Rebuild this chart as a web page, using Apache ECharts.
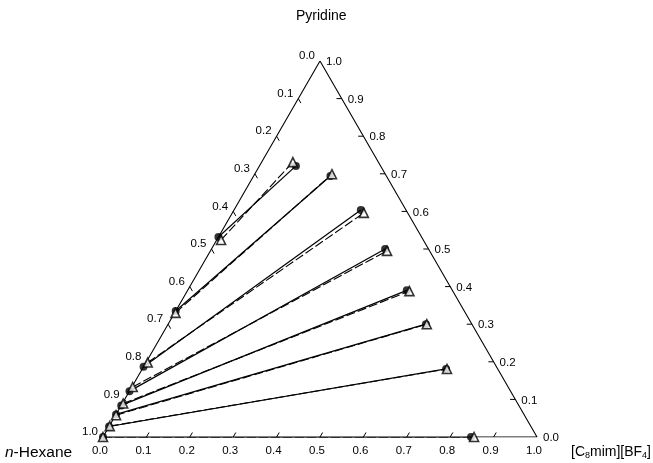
<!DOCTYPE html>
<html>
<head>
<meta charset="utf-8">
<script src="https://cdn.jsdelivr.net/npm/echarts@6/dist/echarts.min.js"></script>
<style>
html,body{margin:0;padding:0;background:#fff;}
#chart{width:653px;height:463px;}
</style>
</head>
<body>
<div id="chart"></div>
<script>
// Tick values and labels (shared by all three edges)
const tickValues = [0.0, 0.1, 0.2, 0.3, 0.4, 0.5, 0.6, 0.7, 0.8, 0.9, 1.0];
const tickLabels = ['0.0','0.1','0.2','0.3','0.4','0.5','0.6','0.7','0.8','0.9','1.0'];

// Experimental tie lines (filled circles, solid lines): mole fractions
const expHexPhaseIL  = [0.000, 0.000, 0.000, 0.000, 0.000, 0.000, 0.000, 0.000];
const expHexPhasePyr = [0.532, 0.335, 0.187, 0.122, 0.084, 0.060, 0.028, 0.000];
const expILPhaseIL   = [0.084, 0.177, 0.292, 0.400, 0.505, 0.594, 0.700, 0.848];
const expILPhasePyr  = [0.721, 0.694, 0.604, 0.500, 0.390, 0.300, 0.181, 0.000];

// Calculated tie lines (open triangles, dashed lines)
const calcHexPhaseIL  = [0.010, 0.002, 0.004, 0.002, 0.002, 0.001, 0.001, 0.000];
const calcHexPhasePyr = [0.524, 0.330, 0.198, 0.133, 0.089, 0.058, 0.029, 0.000];
const calcILPhaseIL   = [0.072, 0.178, 0.303, 0.407, 0.512, 0.596, 0.702, 0.855];
const calcILPhasePyr  = [0.731, 0.699, 0.596, 0.495, 0.388, 0.300, 0.181, 0.000];

const S3 = Math.sqrt(3) / 2;
// ternary (IL fraction, pyridine fraction) -> cartesian
function tern(il, pyr) { return [il + pyr / 2, pyr * S3]; }

function tieLines(aIL, aPyr, bIL, bPyr) {
  return aIL.map((v, i) => ({ coords: [tern(aIL[i], aPyr[i]), tern(bIL[i], bPyr[i])] }));
}
function points(il1, p1, il2, p2) {
  return il1.map((v, i) => tern(il1[i], p1[i])).concat(il2.map((v, i) => tern(il2[i], p2[i])));
}

const FONT = '"Liberation Sans", Arial, Helvetica, sans-serif';
const chart = echarts.init(document.getElementById('chart'), null, { renderer: 'canvas' });

const tickLen = 0.012;
function renderTicks(params, api) {
  const v = tickValues[params.dataIndex];
  const children = [];
  const seg = (a, b) => {
    const p1 = api.coord(a), p2 = api.coord(b);
    children.push({ type: 'line', shape: { x1: p1[0], y1: p1[1], x2: p2[0], y2: p2[1] },
      style: { stroke: '#000', lineWidth: 1 } });
  };
  if (v > 0 && v < 1) {
    seg(tern(v, 0), tern(v, tickLen));                       // bottom edge: IL fraction
    seg(tern(0, 1 - v), tern(tickLen, 1 - v - tickLen));    // left edge: hexane fraction
    seg(tern(1 - v, v), tern(1 - v - tickLen, v));           // right edge: pyridine fraction
  }
  const lab = tickLabels[params.dataIndex];
  const b = api.coord(tern(v, 0));
  const l = api.coord(tern(0, 1 - v));
  const r = api.coord(tern(1 - v, v));
  const ts = { fill: '#000', font: '11.5px ' + FONT };
  children.push({ type: 'text', x: b[0] - 3, y: b[1] + 14,
    style: Object.assign({ text: lab, textAlign: 'center', textVerticalAlign: 'middle' }, ts) });
  children.push({ type: 'text', x: l[0] - 5, y: l[1] - 5,
    style: Object.assign({ text: lab, textAlign: 'right', textVerticalAlign: 'middle' }, ts) });
  children.push({ type: 'text', x: r[0] + 6, y: r[1] + 1,
    style: Object.assign({ text: lab, textAlign: 'left', textVerticalAlign: 'middle' }, ts) });
  return { type: 'group', children: children };
}

const option = {
  animation: false,
  backgroundColor: '#fff',
  grid: { left: 103, width: 434, top: 61, height: 376 },
  xAxis: { type: 'value', min: 0, max: 1, show: false },
  yAxis: { type: 'value', min: 0, max: S3, show: false },
  graphic: [
    { type: 'text', left: 296, top: 9, style: { text: 'Pyridine', font: '14px ' + FONT, fill: '#000' } },
    { type: 'text', left: 5, top: 445, style: {
        rich: { i: { fontStyle: 'italic', fontSize: 15.5, fontFamily: FONT }, n: { fontSize: 15.5, fontFamily: FONT } },
        text: '{i|n}{n|-Hexane}', fill: '#000' } },
    { type: 'text', left: 571, top: 445, style: {
        rich: { n: { fontSize: 14, fontFamily: FONT }, s: { fontSize: 9, fontFamily: FONT, padding: [8, 0, 0, 0] } },
        text: '{n|[C}{s|8}{n|mim][BF}{s|4}{n|]}', fill: '#000' } }
  ],
  series: [
    {
      type: 'line', data: [tern(0, 0), tern(1, 0), tern(0, 1), tern(0, 0)],
      showSymbol: false, symbol: 'none', lineStyle: { color: '#000', width: 1.1 }, z: 1, silent: true
    },
    {
      type: 'custom', renderItem: renderTicks, data: tickValues.map(v => [v, 0]), z: 2, silent: true, clip: false
    },
    {
      type: 'lines', coordinateSystem: 'cartesian2d', polyline: false,
      data: tieLines(expHexPhaseIL, expHexPhasePyr, expILPhaseIL, expILPhasePyr),
      lineStyle: { color: '#000', width: 1.2, type: 'solid', opacity: 1 }, z: 3, silent: true
    },
    {
      type: 'lines', coordinateSystem: 'cartesian2d', polyline: false,
      data: tieLines(calcHexPhaseIL, calcHexPhasePyr, calcILPhaseIL, calcILPhasePyr),
      lineStyle: { color: '#000', width: 1.1, type: [9, 3], opacity: 1 }, z: 3, silent: true
    },
    {
      type: 'scatter', data: points(expHexPhaseIL, expHexPhasePyr, expILPhaseIL, expILPhasePyr),
      symbol: 'circle', symbolSize: 8, itemStyle: { color: '#000' }, z: 4, silent: true
    },
    {
      type: 'scatter', data: points(calcHexPhaseIL, calcHexPhasePyr, calcILPhaseIL, calcILPhasePyr),
      symbol: 'triangle', symbolSize: 9, itemStyle: { color: '#fff', borderColor: '#000', borderWidth: 1.6 }, z: 5, silent: true
    }
  ]
};
chart.setOption(option);
</script>
</body>
</html>
